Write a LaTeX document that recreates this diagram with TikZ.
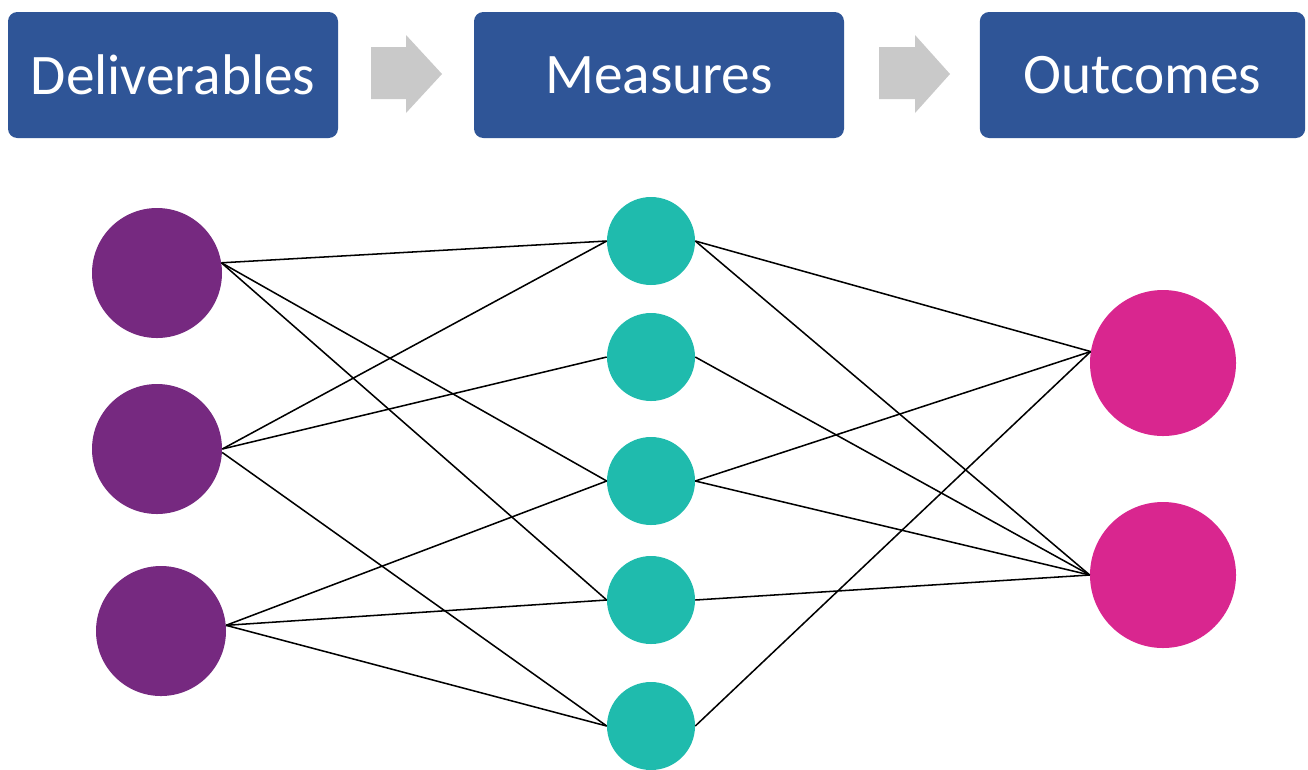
\documentclass[tikz,border=0pt]{standalone}
\usepackage{fontspec}
\setmainfont{Carlito}
\definecolor{boxblue}{HTML}{2F5597}
\definecolor{arrowgray}{HTML}{C9C9C9}
\definecolor{delpurple}{HTML}{762980}
\definecolor{measteal}{HTML}{1FBBAD}
\definecolor{outpink}{HTML}{D9268F}
\begin{document}
\begin{tikzpicture}[x=0.75pt,y=-0.75pt,
  hdr/.style={fill=boxblue,rounded corners=7pt,text=white,
    font=\fontsize{43}{50}\selectfont,inner sep=0pt,minimum height=94.5pt},
  dot/.style={circle,inner sep=0pt,draw=none},
  delnode/.style={dot,fill=delpurple,minimum size=97.5pt},
  measnode/.style={dot,fill=measteal,minimum size=66pt},
  outnode/.style={dot,fill=outpink,minimum size=109.5pt},
  edge/.style={draw=black,line width=1.15pt},
  flowarrow/.style={fill=arrowgray}]
\fill[white] (0,0) rectangle (1308,769);
\useasboundingbox (0,0) rectangle (1308,769);
% header boxes
\node[hdr,minimum width=247.5pt] (deliv) at (173,75) {Deliverables};
\node[hdr,minimum width=277.5pt] (meas) at (659,75) {Measures};
\node[hdr,minimum width=244pt] (outc) at (1142.5,75) {Outcomes};
% gray arrows
\fill[flowarrow] (371,47) -- (406,47) -- (406,35) -- (442,74) -- (406,113) -- (406,99) -- (371,99) -- cycle;
\fill[flowarrow] (879,47) -- (915,47) -- (915,35) -- (950,74) -- (915,113) -- (915,99) -- (879,99) -- cycle;
% circles
\node[delnode] (p1) at (157,273) {};
\node[delnode] (p2) at (157,449) {};
\node[delnode] (p3) at (161,631) {};
\node[measnode] (t1) at (651,241) {};
\node[measnode] (t2) at (651,357) {};
\node[measnode] (t3) at (651,481) {};
\node[measnode] (t4) at (651,600) {};
\node[measnode] (t5) at (651,726) {};
\node[outnode] (o1) at (1163,363) {};
\node[outnode] (o2) at (1163,575) {};
% left connections
\draw[edge] (p1.9) -- (t1.west);
\draw[edge] (p1.9) -- (t3.west);
\draw[edge] (p1.9) -- (t4.west);
\draw[edge] (p2.east) -- (t1.west);
\draw[edge] (p2.east) -- (t2.west);
\draw[edge] (p2.-3) -- (t5.west);
\draw[edge] (p3.5) -- (t3.west);
\draw[edge] (p3.5) -- (t4.west);
\draw[edge] (p3.5) -- (t5.west);
% right connections
\draw[edge] (t1.east) -- (o1.171);
\draw[edge] (t1.east) -- (o2.west);
\draw[edge] (t2.east) -- (o2.west);
\draw[edge] (t3.east) -- (o1.171);
\draw[edge] (t3.east) -- (o2.west);
\draw[edge] (t4.east) -- (o2.west);
\draw[edge] (t5.east) -- (o1.171);
\end{tikzpicture}
\end{document}
